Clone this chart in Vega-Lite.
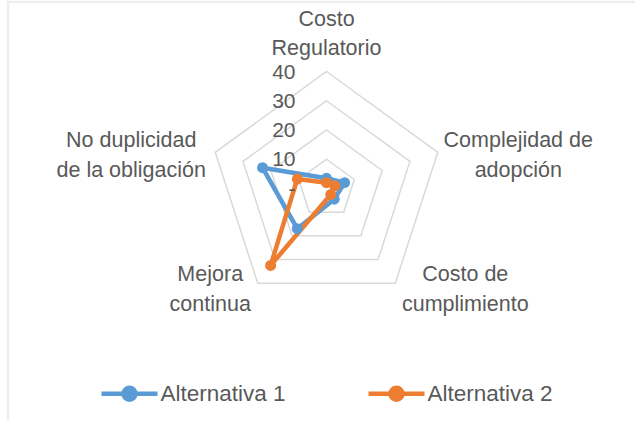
{
  "$schema": "https://vega.github.io/schema/vega-lite/v6.json",
  "width": 640,
  "height": 430,
  "autosize": {"type": "none"},
  "padding": {"left": 8, "top": 2, "right": 0, "bottom": 0},
  "background": "white",
  "config": {
    "view": {"stroke": "#eeeeee", "strokeWidth": 2.5},
    "text": {"font": "Liberation Sans"}
  },
  "datasets": {
    "grid": [
      {"value": 10, "k": 0}, {"value": 10, "k": 1}, {"value": 10, "k": 2}, {"value": 10, "k": 3}, {"value": 10, "k": 4},
      {"value": 20, "k": 0}, {"value": 20, "k": 1}, {"value": 20, "k": 2}, {"value": 20, "k": 3}, {"value": 20, "k": 4},
      {"value": 30, "k": 0}, {"value": 30, "k": 1}, {"value": 30, "k": 2}, {"value": 30, "k": 3}, {"value": 30, "k": 4},
      {"value": 40, "k": 0}, {"value": 40, "k": 1}, {"value": 40, "k": 2}, {"value": 40, "k": 3}, {"value": 40, "k": 4}
    ],
    "series": [
      {"serie": "Alternativa 1", "categoria": "Costo Regulatorio", "k": 0, "value": 3.5},
      {"serie": "Alternativa 1", "categoria": "Complejidad de adopción", "k": 1, "value": 6.5},
      {"serie": "Alternativa 1", "categoria": "Costo de cumplimiento", "k": 2, "value": 4.5},
      {"serie": "Alternativa 1", "categoria": "Mejora continua", "k": 3, "value": 17},
      {"serie": "Alternativa 1", "categoria": "No duplicidad de la obligación", "k": 4, "value": 23},
      {"serie": "Alternativa 2", "categoria": "Costo Regulatorio", "k": 0, "value": 2},
      {"serie": "Alternativa 2", "categoria": "Complejidad de adopción", "k": 1, "value": 3},
      {"serie": "Alternativa 2", "categoria": "Costo de cumplimiento", "k": 2, "value": 2.5},
      {"serie": "Alternativa 2", "categoria": "Mejora continua", "k": 3, "value": 32.5},
      {"serie": "Alternativa 2", "categoria": "No duplicidad de la obligación", "k": 4, "value": 10.5}
    ],
    "ticks": [
      {"value": 0, "k": 0, "label": "-"},
      {"value": 10, "k": 0, "label": "10"},
      {"value": 20, "k": 0, "label": "20"},
      {"value": 30, "k": 0, "label": "30"},
      {"value": 40, "k": 0, "label": "40"}
    ],
    "labels": [
      {"value": 40, "k": 0, "label": ["Costo", "Regulatorio"]},
      {"value": 40, "k": 1, "label": ["Complejidad de", "adopción"]},
      {"value": 40, "k": 2, "label": ["Costo de", "cumplimiento"]},
      {"value": 40, "k": 3, "label": ["Mejora", "continua"]},
      {"value": 40, "k": 4, "label": ["No duplicidad", "de la obligación"]}
    ]
  },
  "encoding": {
    "x": {"field": "x", "type": "quantitative", "scale": {"domain": [-108.889, 109.915], "nice": false, "zero": false}, "axis": null},
    "y": {"field": "y", "type": "quantitative", "scale": {"domain": [-83.248, 63.761], "nice": false, "zero": false}, "axis": null}
  },
  "layer": [
    {
      "data": {"name": "grid"},
      "transform": [
        {"calculate": "2*PI*datum.k/5", "as": "theta"},
        {"calculate": "datum.value*sin(datum.theta)", "as": "x"},
        {"calculate": "datum.value*cos(datum.theta)", "as": "y"}
      ],
      "mark": {"type": "line", "interpolate": "linear-closed", "stroke": "#d9d9d9", "strokeWidth": 1.5},
      "encoding": {
        "detail": {"field": "value", "type": "nominal"},
        "order": {"field": "k", "type": "quantitative"}
      }
    },
    {
      "data": {"name": "series"},
      "transform": [
        {"calculate": "2*PI*datum.k/5", "as": "theta"},
        {"calculate": "datum.value*sin(datum.theta)", "as": "x"},
        {"calculate": "datum.value*cos(datum.theta)", "as": "y"}
      ],
      "mark": {"type": "line", "interpolate": "linear-closed", "strokeWidth": 4.5},
      "encoding": {
        "color": {
          "field": "serie", "type": "nominal",
          "scale": {"domain": ["Alternativa 1", "Alternativa 2"], "range": ["#5b9bd5", "#ed7d31"]},
          "legend": {
            "title": null, "orient": "none", "legendX": 91, "legendY": 361, "direction": "horizontal",
            "symbolType": "M-1,0L1,0M0.214,0A0.214,0.214,0,1,1,-0.214,0A0.214,0.214,0,1,1,0.214,0",
            "symbolSize": 3136, "symbolStrokeWidth": 4.5,
            "labelFont": "Liberation Sans", "labelFontSize": 22.5, "labelColor": "#595959",
            "labelOffset": 0.5, "columnPadding": 73,
            "encode": {"symbols": {"update": {"fill": {"scale": "color", "field": "value"}, "stroke": {"scale": "color", "field": "value"}, "opacity": {"value": 1}}}}
          }
        },
        "order": {"field": "k", "type": "quantitative"}
      }
    },
    {
      "data": {"name": "series"},
      "transform": [
        {"calculate": "2*PI*datum.k/5", "as": "theta"},
        {"calculate": "datum.value*sin(datum.theta)", "as": "x"},
        {"calculate": "datum.value*cos(datum.theta)", "as": "y"}
      ],
      "mark": {"type": "point", "filled": true, "size": 120, "opacity": 1},
      "encoding": {
        "color": {
          "field": "serie", "type": "nominal",
          "scale": {"domain": ["Alternativa 1", "Alternativa 2"], "range": ["#5b9bd5", "#ed7d31"]},
          "legend": {
            "title": null, "orient": "none", "legendX": 91, "legendY": 361, "direction": "horizontal",
            "symbolType": "M-1,0L1,0M0.214,0A0.214,0.214,0,1,1,-0.214,0A0.214,0.214,0,1,1,0.214,0",
            "symbolSize": 3136, "symbolStrokeWidth": 4.5,
            "labelFont": "Liberation Sans", "labelFontSize": 22.5, "labelColor": "#595959",
            "labelOffset": 0.5, "columnPadding": 73,
            "encode": {"symbols": {"update": {"fill": {"scale": "color", "field": "value"}, "stroke": {"scale": "color", "field": "value"}, "opacity": {"value": 1}}}}
          }
        }
      }
    },
    {
      "data": {"name": "ticks"},
      "transform": [
        {"calculate": "2*PI*datum.k/5", "as": "theta"},
        {"calculate": "datum.value*sin(datum.theta)", "as": "x"},
        {"calculate": "datum.value*cos(datum.theta)", "as": "y"}
      ],
      "mark": {"type": "text", "align": "right", "baseline": "middle", "dx": -31, "dy": 1, "fontSize": 21, "color": "#595959"},
      "encoding": {"text": {"field": "label", "type": "nominal"}}
    },
    {
      "data": {"name": "labels"},
      "transform": [
        {"filter": "datum.k == 0"},
        {"calculate": "2*PI*datum.k/5", "as": "theta"},
        {"calculate": "datum.value*sin(datum.theta)", "as": "x"},
        {"calculate": "datum.value*cos(datum.theta)", "as": "y"}
      ],
      "mark": {"type": "text", "align": "center", "baseline": "alphabetic", "lineHeight": 29, "fontSize": 21.5, "color": "#595959", "dx": 0, "dy": -46},
      "encoding": {"text": {"field": "label", "type": "nominal"}}
    },
    {
      "data": {"name": "labels"},
      "transform": [
        {"filter": "datum.k == 1"},
        {"calculate": "2*PI*datum.k/5", "as": "theta"},
        {"calculate": "datum.value*sin(datum.theta)", "as": "x"},
        {"calculate": "datum.value*cos(datum.theta)", "as": "y"}
      ],
      "mark": {"type": "text", "align": "center", "baseline": "alphabetic", "lineHeight": 30, "fontSize": 21.5, "color": "#595959", "dx": 80.5, "dy": -5},
      "encoding": {"text": {"field": "label", "type": "nominal"}}
    },
    {
      "data": {"name": "labels"},
      "transform": [
        {"filter": "datum.k == 2"},
        {"calculate": "2*PI*datum.k/5", "as": "theta"},
        {"calculate": "datum.value*sin(datum.theta)", "as": "x"},
        {"calculate": "datum.value*cos(datum.theta)", "as": "y"}
      ],
      "mark": {"type": "text", "align": "center", "baseline": "alphabetic", "lineHeight": 30, "fontSize": 21.5, "color": "#595959", "dx": 70, "dy": -2},
      "encoding": {"text": {"field": "label", "type": "nominal"}}
    },
    {
      "data": {"name": "labels"},
      "transform": [
        {"filter": "datum.k == 3"},
        {"calculate": "2*PI*datum.k/5", "as": "theta"},
        {"calculate": "datum.value*sin(datum.theta)", "as": "x"},
        {"calculate": "datum.value*cos(datum.theta)", "as": "y"}
      ],
      "mark": {"type": "text", "align": "center", "baseline": "alphabetic", "lineHeight": 30, "fontSize": 21.5, "color": "#595959", "dx": -47.5, "dy": -2},
      "encoding": {"text": {"field": "label", "type": "nominal"}}
    },
    {
      "data": {"name": "labels"},
      "transform": [
        {"filter": "datum.k == 4"},
        {"calculate": "2*PI*datum.k/5", "as": "theta"},
        {"calculate": "datum.value*sin(datum.theta)", "as": "x"},
        {"calculate": "datum.value*cos(datum.theta)", "as": "y"}
      ],
      "mark": {"type": "text", "align": "center", "baseline": "alphabetic", "lineHeight": 30, "fontSize": 21.5, "color": "#595959", "dx": -84, "dy": -5.5},
      "encoding": {"text": {"field": "label", "type": "nominal"}}
    }
  ]
}
